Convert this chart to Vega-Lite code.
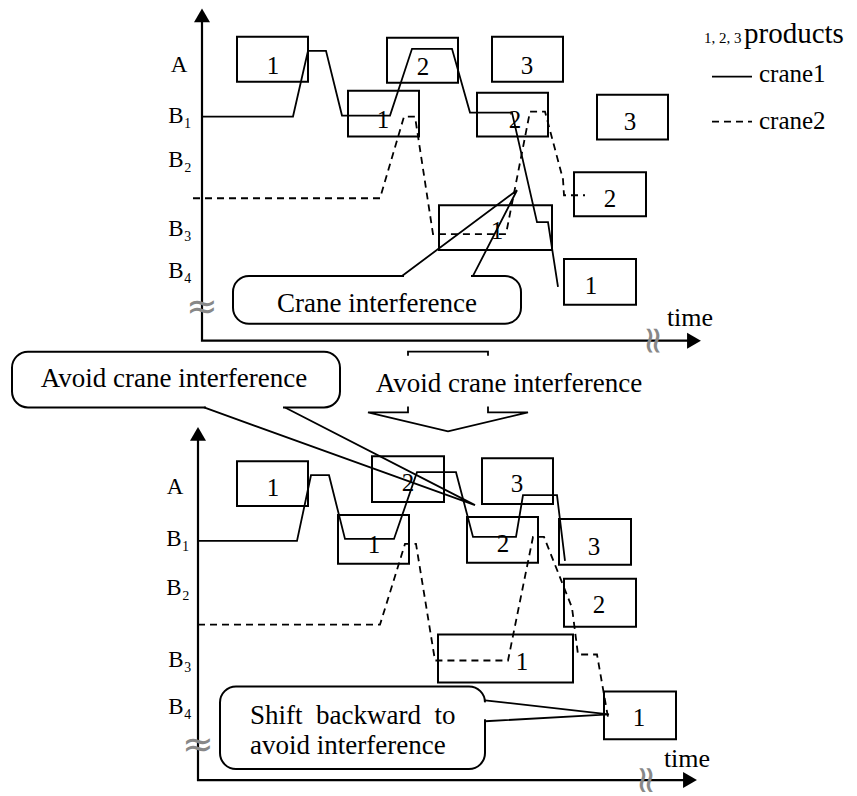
{
  "$schema": "https://vega.github.io/schema/vega-lite/v6.json",
  "width": 857,
  "height": 796,
  "padding": 0,
  "autosize": {"type": "fit", "contains": "padding"},
  "background": "white",
  "config": {"view": {"stroke": null}, "text": {"font": "Liberation Serif"}},
  "datasets": {
    "boxes": [
      {"x1": 237, "x2": 308, "y1": 37, "y2": 82, "n": "1", "tx": 273, "ty": 66},
      {"x1": 387, "x2": 458, "y1": 38, "y2": 83, "n": "2", "tx": 423, "ty": 67},
      {"x1": 492, "x2": 563, "y1": 37, "y2": 82, "n": "3", "tx": 527, "ty": 66},
      {"x1": 348, "x2": 419, "y1": 91, "y2": 137, "n": "1", "tx": 383, "ty": 120},
      {"x1": 477, "x2": 548, "y1": 93, "y2": 137, "n": "2", "tx": 515, "ty": 120},
      {"x1": 597, "x2": 668, "y1": 95, "y2": 140, "n": "3", "tx": 630, "ty": 122},
      {"x1": 439, "x2": 552, "y1": 206, "y2": 251, "n": "1", "tx": 497, "ty": 232},
      {"x1": 574, "x2": 646, "y1": 173, "y2": 217, "n": "2", "tx": 610, "ty": 200},
      {"x1": 564, "x2": 636, "y1": 260, "y2": 306, "n": "1", "tx": 591, "ty": 287},
      {"x1": 237, "x2": 308, "y1": 463, "y2": 508, "n": "1", "tx": 273, "ty": 490},
      {"x1": 372, "x2": 444, "y1": 458, "y2": 504, "n": "2", "tx": 408, "ty": 485},
      {"x1": 338, "x2": 409, "y1": 517, "y2": 566, "n": "1", "tx": 374, "ty": 547},
      {"x1": 482, "x2": 553, "y1": 460, "y2": 506, "n": "3", "tx": 517, "ty": 486},
      {"x1": 467, "x2": 538, "y1": 519, "y2": 565, "n": "2", "tx": 503, "ty": 546},
      {"x1": 559, "x2": 631, "y1": 521, "y2": 567, "n": "3", "tx": 594, "ty": 549},
      {"x1": 564, "x2": 636, "y1": 581, "y2": 629, "n": "2", "tx": 599, "ty": 607},
      {"x1": 438, "x2": 573, "y1": 637, "y2": 685, "n": "1", "tx": 522, "ty": 665},
      {"x1": 604, "x2": 676, "y1": 694, "y2": 742, "n": "1", "tx": 639, "ty": 721}
    ],
    "bubbles": [
      {"x1": 233, "x2": 521, "y1": 277, "y2": 325},
      {"x1": 12, "x2": 340, "y1": 353, "y2": 409},
      {"x1": 220, "x2": 485, "y1": 689, "y2": 772}
    ],
    "lines": [
      {"k": "a", "p": "axT", "i": 0, "x": 202, "y": 15},
      {"k": "a", "p": "axT", "i": 1, "x": 202, "y": 342},
      {"k": "a", "p": "axT", "i": 2, "x": 694, "y": 342},
      {"k": "a", "p": "axB", "i": 0, "x": 198, "y": 435},
      {"k": "a", "p": "axB", "i": 1, "x": 198, "y": 783},
      {"k": "a", "p": "axB", "i": 2, "x": 690, "y": 783},

      {"k": "s", "p": "c1T", "i": 0, "x": 202, "y": 117},
      {"k": "s", "p": "c1T", "i": 1, "x": 293, "y": 117},
      {"k": "s", "p": "c1T", "i": 2, "x": 308, "y": 51},
      {"k": "s", "p": "c1T", "i": 3, "x": 326, "y": 51},
      {"k": "s", "p": "c1T", "i": 4, "x": 342, "y": 116},
      {"k": "s", "p": "c1T", "i": 5, "x": 390, "y": 116},
      {"k": "s", "p": "c1T", "i": 6, "x": 412, "y": 49},
      {"k": "s", "p": "c1T", "i": 7, "x": 452, "y": 49},
      {"k": "s", "p": "c1T", "i": 8, "x": 470, "y": 113},
      {"k": "s", "p": "c1T", "i": 9, "x": 512, "y": 113},
      {"k": "s", "p": "c1T", "i": 10, "x": 537, "y": 223},
      {"k": "s", "p": "c1T", "i": 11, "x": 548, "y": 223},
      {"k": "s", "p": "c1T", "i": 12, "x": 558, "y": 288},

      {"k": "s", "p": "c1B", "i": 0, "x": 198, "y": 543},
      {"k": "s", "p": "c1B", "i": 1, "x": 297, "y": 543},
      {"k": "s", "p": "c1B", "i": 2, "x": 311, "y": 477},
      {"k": "s", "p": "c1B", "i": 3, "x": 329, "y": 477},
      {"k": "s", "p": "c1B", "i": 4, "x": 345, "y": 541},
      {"k": "s", "p": "c1B", "i": 5, "x": 394, "y": 541},
      {"k": "s", "p": "c1B", "i": 6, "x": 417, "y": 474},
      {"k": "s", "p": "c1B", "i": 7, "x": 456, "y": 474},
      {"k": "s", "p": "c1B", "i": 8, "x": 473, "y": 539},
      {"k": "s", "p": "c1B", "i": 9, "x": 516, "y": 539},
      {"k": "s", "p": "c1B", "i": 10, "x": 523, "y": 497},
      {"k": "s", "p": "c1B", "i": 11, "x": 557, "y": 497},
      {"k": "s", "p": "c1B", "i": 12, "x": 565, "y": 563},

      {"k": "s", "p": "lg1", "i": 0, "x": 712, "y": 77},
      {"k": "s", "p": "lg1", "i": 1, "x": 752, "y": 77},

      {"k": "s", "p": "ar1", "i": 0, "x": 408, "y": 357},
      {"k": "s", "p": "ar1", "i": 1, "x": 408, "y": 353},
      {"k": "s", "p": "ar1", "i": 2, "x": 488, "y": 353},
      {"k": "s", "p": "ar1", "i": 3, "x": 488, "y": 357},
      {"k": "s", "p": "ar2", "i": 0, "x": 408, "y": 408},
      {"k": "s", "p": "ar2", "i": 1, "x": 408, "y": 414},
      {"k": "s", "p": "ar2", "i": 2, "x": 368, "y": 414},
      {"k": "s", "p": "ar2", "i": 3, "x": 448, "y": 433},
      {"k": "s", "p": "ar2", "i": 4, "x": 528, "y": 414},
      {"k": "s", "p": "ar2", "i": 5, "x": 488, "y": 414},
      {"k": "s", "p": "ar2", "i": 6, "x": 488, "y": 408},

      {"k": "d", "p": "c2T", "i": 0, "x": 193, "y": 199},
      {"k": "d", "p": "c2T", "i": 1, "x": 380, "y": 199},
      {"k": "d", "p": "c2T", "i": 2, "x": 404, "y": 117},
      {"k": "d", "p": "c2T", "i": 3, "x": 415, "y": 117},
      {"k": "d", "p": "c2T", "i": 4, "x": 433, "y": 235},
      {"k": "d", "p": "c2T", "i": 5, "x": 506, "y": 235},
      {"k": "d", "p": "c2T", "i": 6, "x": 530, "y": 112},
      {"k": "d", "p": "c2T", "i": 7, "x": 545, "y": 112},
      {"k": "d", "p": "c2T", "i": 8, "x": 563, "y": 180},
      {"k": "d", "p": "c2T", "i": 9, "x": 564, "y": 196},
      {"k": "d", "p": "c2T", "i": 10, "x": 585, "y": 196},

      {"k": "d", "p": "c2B", "i": 0, "x": 198, "y": 627},
      {"k": "d", "p": "c2B", "i": 1, "x": 380, "y": 627},
      {"k": "d", "p": "c2B", "i": 2, "x": 405, "y": 546},
      {"k": "d", "p": "c2B", "i": 3, "x": 416, "y": 546},
      {"k": "d", "p": "c2B", "i": 4, "x": 435, "y": 663},
      {"k": "d", "p": "c2B", "i": 5, "x": 508, "y": 663},
      {"k": "d", "p": "c2B", "i": 6, "x": 533, "y": 539},
      {"k": "d", "p": "c2B", "i": 7, "x": 544, "y": 539},
      {"k": "d", "p": "c2B", "i": 8, "x": 572, "y": 610},
      {"k": "d", "p": "c2B", "i": 9, "x": 578, "y": 657},
      {"k": "d", "p": "c2B", "i": 10, "x": 597, "y": 657},
      {"k": "d", "p": "c2B", "i": 11, "x": 608, "y": 720},

      {"k": "d", "p": "lg2", "i": 0, "x": 712, "y": 122},
      {"k": "d", "p": "lg2", "i": 1, "x": 752, "y": 122},

      {"k": "w", "p": "wA", "i": 0, "x": 404, "y": 277},
      {"k": "w", "p": "wA", "i": 1, "x": 471, "y": 277},
      {"k": "w", "p": "wB", "i": 0, "x": 206, "y": 409},
      {"k": "w", "p": "wB", "i": 1, "x": 283, "y": 409},
      {"k": "w", "p": "wC", "i": 0, "x": 485, "y": 705},
      {"k": "w", "p": "wC", "i": 1, "x": 485, "y": 722},

      {"k": "p", "p": "pA", "i": 0, "x": 402, "y": 277},
      {"k": "p", "p": "pA", "i": 1, "x": 517, "y": 191},
      {"k": "p", "p": "pA", "i": 2, "x": 473, "y": 277},
      {"k": "p", "p": "pB", "i": 0, "x": 204, "y": 409},
      {"k": "p", "p": "pB", "i": 1, "x": 475, "y": 507},
      {"k": "p", "p": "pB", "i": 2, "x": 285, "y": 409},
      {"k": "p", "p": "pC", "i": 0, "x": 485, "y": 703},
      {"k": "p", "p": "pC", "i": 1, "x": 609, "y": 717},
      {"k": "p", "p": "pC", "i": 2, "x": 485, "y": 724}
    ],
    "heads": [
      {"x": 202, "y": 15.5, "s": "triangle-up"},
      {"x": 694, "y": 342, "s": "triangle-right"},
      {"x": 198, "y": 435.5, "s": "triangle-up"},
      {"x": 690, "y": 783, "s": "triangle-right"}
    ],
    "texts": [
      {"g": "lab", "t": "A", "x": 179, "y": 65},
      {"g": "lab", "t": "B₁", "x": 180, "y": 116},
      {"g": "lab", "t": "B₂", "x": 180, "y": 161},
      {"g": "lab", "t": "B₃", "x": 180, "y": 230},
      {"g": "lab", "t": "B₄", "x": 180, "y": 272},
      {"g": "lab", "t": "A", "x": 175, "y": 489},
      {"g": "lab", "t": "B₁", "x": 178, "y": 541},
      {"g": "lab", "t": "B₂", "x": 178, "y": 590},
      {"g": "lab", "t": "B₃", "x": 180, "y": 662},
      {"g": "lab", "t": "B₄", "x": 180, "y": 710},
      {"g": "call", "t": "Crane interference", "x": 377, "y": 313},
      {"g": "call", "t": "Avoid crane interference", "x": 174, "y": 388},
      {"g": "call", "t": "Avoid crane interference", "x": 509, "y": 393},
      {"g": "time", "t": "time", "x": 690, "y": 327},
      {"g": "time", "t": "time", "x": 687, "y": 770},
      {"g": "left", "t": "Shift\u00a0\u00a0backward\u00a0\u00a0to", "x": 250, "y": 727},
      {"g": "left", "t": "avoid interference", "x": 250, "y": 757},
      {"g": "big", "t": "products", "x": 744, "y": 43},
      {"g": "leg", "t": "crane1", "x": 759, "y": 82},
      {"g": "leg", "t": "crane2", "x": 759, "y": 129},
      {"g": "small", "t": "1, 2, 3", "x": 704, "y": 43},
      {"g": "brk", "t": "≈", "x": 202, "y": 309},
      {"g": "brk", "t": "≈", "x": 198, "y": 749},
      {"g": "brkx", "t": "≈", "x": 652, "y": 342},
      {"g": "brkx", "t": "≈", "x": 645, "y": 783}
    ]
  },
  "layer": [
    {
      "data": {"name": "boxes"},
      "mark": {"type": "rect", "filled": false, "stroke": "black", "strokeWidth": 2},
      "encoding": {
        "x": {"field": "x1", "type": "quantitative", "scale": {"domain": [0, 857], "nice": false, "zero": false}, "axis": null},
        "x2": {"field": "x2"},
        "y": {"field": "y1", "type": "quantitative", "scale": {"domain": [0, 796], "nice": false, "zero": false, "reverse": true}, "axis": null},
        "y2": {"field": "y2"}
      }
    },
    {
      "data": {"name": "lines"},
      "transform": [{"filter": "datum.k === 'a'"}],
      "mark": {"type": "line", "color": "black", "strokeWidth": 2.2},
      "encoding": {
        "x": {"field": "x", "type": "quantitative"},
        "y": {"field": "y", "type": "quantitative"},
        "detail": {"field": "p"},
        "order": {"field": "i", "type": "quantitative"}
      }
    },
    {
      "data": {"name": "lines"},
      "transform": [{"filter": "datum.k === 's'"}],
      "mark": {"type": "line", "color": "black", "strokeWidth": 1.8},
      "encoding": {
        "x": {"field": "x", "type": "quantitative"},
        "y": {"field": "y", "type": "quantitative"},
        "detail": {"field": "p"},
        "order": {"field": "i", "type": "quantitative"}
      }
    },
    {
      "data": {"name": "lines"},
      "transform": [{"filter": "datum.k === 'd'"}],
      "mark": {"type": "line", "color": "black", "strokeWidth": 1.8, "strokeDash": [7, 5]},
      "encoding": {
        "x": {"field": "x", "type": "quantitative"},
        "y": {"field": "y", "type": "quantitative"},
        "detail": {"field": "p"},
        "order": {"field": "i", "type": "quantitative"}
      }
    },
    {
      "data": {"name": "bubbles"},
      "mark": {"type": "rect", "fill": "white", "stroke": "black", "strokeWidth": 2, "cornerRadius": 16},
      "encoding": {
        "x": {"field": "x1", "type": "quantitative"},
        "x2": {"field": "x2"},
        "y": {"field": "y1", "type": "quantitative"},
        "y2": {"field": "y2"}
      }
    },
    {
      "data": {"name": "lines"},
      "transform": [{"filter": "datum.k === 'w'"}],
      "mark": {"type": "line", "color": "white", "strokeWidth": 4},
      "encoding": {
        "x": {"field": "x", "type": "quantitative"},
        "y": {"field": "y", "type": "quantitative"},
        "detail": {"field": "p"},
        "order": {"field": "i", "type": "quantitative"}
      }
    },
    {
      "data": {"name": "lines"},
      "transform": [{"filter": "datum.k === 'p'"}],
      "mark": {"type": "line", "color": "black", "strokeWidth": 1.8},
      "encoding": {
        "x": {"field": "x", "type": "quantitative"},
        "y": {"field": "y", "type": "quantitative"},
        "detail": {"field": "p"},
        "order": {"field": "i", "type": "quantitative"}
      }
    },
    {
      "data": {"name": "heads"},
      "mark": {"type": "point", "filled": true, "color": "black", "opacity": 1, "size": 256},
      "encoding": {
        "x": {"field": "x", "type": "quantitative"},
        "y": {"field": "y", "type": "quantitative"},
        "shape": {"field": "s", "type": "nominal", "scale": null, "legend": null}
      }
    },
    {
      "data": {"name": "boxes"},
      "mark": {"type": "text", "fontSize": 25, "align": "center", "baseline": "middle", "color": "black"},
      "encoding": {
        "x": {"field": "tx", "type": "quantitative"},
        "y": {"field": "ty", "type": "quantitative"},
        "text": {"field": "n"}
      }
    },
    {
      "data": {"name": "texts"},
      "transform": [{"filter": "datum.g === 'lab'"}],
      "mark": {"type": "text", "fontSize": 23, "align": "center", "baseline": "middle", "color": "black"},
      "encoding": {
        "x": {"field": "x", "type": "quantitative"},
        "y": {"field": "y", "type": "quantitative"},
        "text": {"field": "t"}
      }
    },
    {
      "data": {"name": "texts"},
      "transform": [{"filter": "datum.g === 'call'"}],
      "mark": {"type": "text", "fontSize": 27, "align": "center", "baseline": "alphabetic", "color": "black"},
      "encoding": {
        "x": {"field": "x", "type": "quantitative"},
        "y": {"field": "y", "type": "quantitative"},
        "text": {"field": "t"}
      }
    },
    {
      "data": {"name": "texts"},
      "transform": [{"filter": "datum.g === 'time'"}],
      "mark": {"type": "text", "fontSize": 26, "align": "center", "baseline": "alphabetic", "color": "black"},
      "encoding": {
        "x": {"field": "x", "type": "quantitative"},
        "y": {"field": "y", "type": "quantitative"},
        "text": {"field": "t"}
      }
    },
    {
      "data": {"name": "texts"},
      "transform": [{"filter": "datum.g === 'left'"}],
      "mark": {"type": "text", "fontSize": 27, "align": "left", "baseline": "alphabetic", "color": "black"},
      "encoding": {
        "x": {"field": "x", "type": "quantitative"},
        "y": {"field": "y", "type": "quantitative"},
        "text": {"field": "t"}
      }
    },
    {
      "data": {"name": "texts"},
      "transform": [{"filter": "datum.g === 'leg'"}],
      "mark": {"type": "text", "fontSize": 25, "align": "left", "baseline": "alphabetic", "color": "black"},
      "encoding": {
        "x": {"field": "x", "type": "quantitative"},
        "y": {"field": "y", "type": "quantitative"},
        "text": {"field": "t"}
      }
    },
    {
      "data": {"name": "texts"},
      "transform": [{"filter": "datum.g === 'big'"}],
      "mark": {"type": "text", "fontSize": 29, "align": "left", "baseline": "alphabetic", "color": "black"},
      "encoding": {
        "x": {"field": "x", "type": "quantitative"},
        "y": {"field": "y", "type": "quantitative"},
        "text": {"field": "t"}
      }
    },
    {
      "data": {"name": "texts"},
      "transform": [{"filter": "datum.g === 'small'"}],
      "mark": {"type": "text", "fontSize": 15, "align": "left", "baseline": "alphabetic", "color": "black"},
      "encoding": {
        "x": {"field": "x", "type": "quantitative"},
        "y": {"field": "y", "type": "quantitative"},
        "text": {"field": "t"}
      }
    },
    {
      "data": {"name": "texts"},
      "transform": [{"filter": "datum.g === 'brk'"}],
      "mark": {"type": "text", "fontSize": 38, "font": "DejaVu Sans", "align": "center", "baseline": "middle", "color": "#888888"},
      "encoding": {
        "x": {"field": "x", "type": "quantitative"},
        "y": {"field": "y", "type": "quantitative"},
        "text": {"field": "t"}
      }
    },
    {
      "data": {"name": "texts"},
      "transform": [{"filter": "datum.g === 'brkx'"}],
      "mark": {"type": "text", "fontSize": 38, "font": "DejaVu Sans", "align": "center", "baseline": "middle", "angle": 90, "color": "#888888"},
      "encoding": {
        "x": {"field": "x", "type": "quantitative"},
        "y": {"field": "y", "type": "quantitative"},
        "text": {"field": "t"}
      }
    }
  ]
}
